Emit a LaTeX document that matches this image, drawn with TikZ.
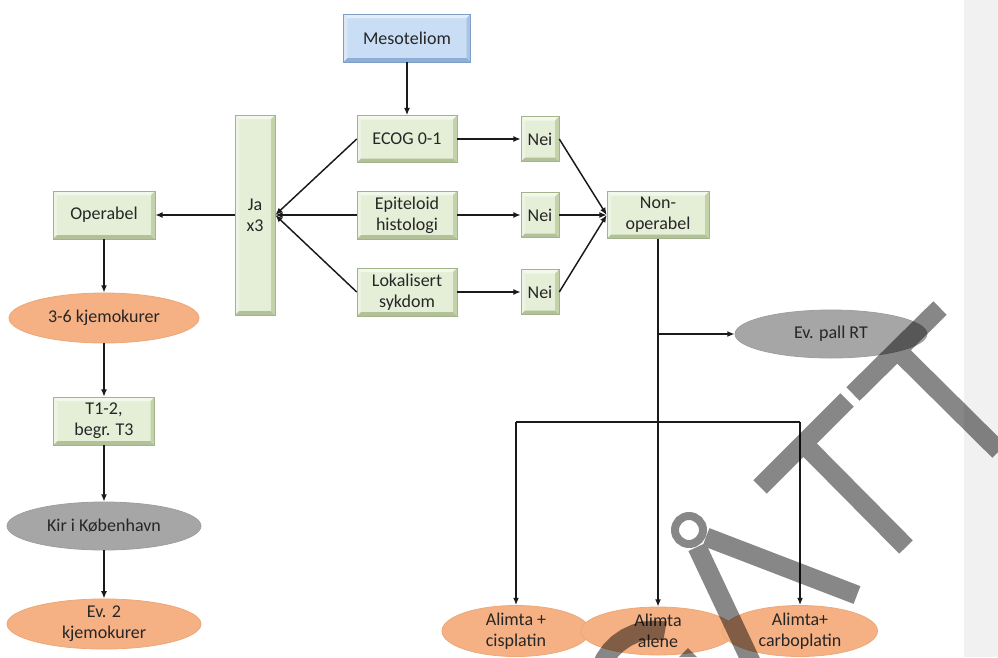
\documentclass[tikz,border=0pt]{standalone}
\usepackage{fontspec}
\setmainfont{Carlito}
\usetikzlibrary{arrows.meta,shapes.geometric}
\definecolor{gfill}{HTML}{E5EFD8}
\definecolor{gtop}{HTML}{F3F8EC}
\definecolor{gleft}{HTML}{EDF4E3}
\definecolor{gbot}{HTML}{B2C198}
\definecolor{gright}{HTML}{C4D2AA}
\definecolor{gedge}{HTML}{A3B38A}
\definecolor{bfill}{HTML}{C9DEF4}
\definecolor{btop}{HTML}{E3EEFA}
\definecolor{bleft}{HTML}{D9E7F7}
\definecolor{bbot}{HTML}{8DAED6}
\definecolor{bright}{HTML}{A8C3E3}
\definecolor{bedge}{HTML}{7E9EC4}
\definecolor{ofill}{HTML}{F5B183}
\definecolor{oedge}{HTML}{EDA878}
\definecolor{grfill}{HTML}{A6A6A6}
\definecolor{gredge}{HTML}{9E9E9E}
\definecolor{txtc}{HTML}{262626}
\definecolor{linec}{HTML}{1A1A1A}
\definecolor{panel}{HTML}{F1F1F1}
\newcommand{\bv}{3pt}
\tikzset{
  bevel/.style n args={4}{path picture={
    \fill[#1] (path picture bounding box.north west) -- (path picture bounding box.north east)
      -- ([shift={(-\bv,-\bv)}]path picture bounding box.north east) -- ([shift={(\bv,-\bv)}]path picture bounding box.north west) -- cycle;
    \fill[#2] (path picture bounding box.north west) -- (path picture bounding box.south west)
      -- ([shift={(\bv,\bv)}]path picture bounding box.south west) -- ([shift={(\bv,-\bv)}]path picture bounding box.north west) -- cycle;
    \fill[#3] (path picture bounding box.south west) -- (path picture bounding box.south east)
      -- ([shift={(-\bv,\bv)}]path picture bounding box.south east) -- ([shift={(\bv,\bv)}]path picture bounding box.south west) -- cycle;
    \fill[#4] (path picture bounding box.north east) -- (path picture bounding box.south east)
      -- ([shift={(-\bv,\bv)}]path picture bounding box.south east) -- ([shift={(-\bv,-\bv)}]path picture bounding box.north east) -- cycle;
  }},
  txt/.style={font=\fontsize{13.5}{15.5}\selectfont, text=txtc, align=center, inner sep=0pt},
  gbox/.style={txt, rectangle, fill=gfill, draw=gedge, line width=0.4pt, bevel={gtop}{gleft}{gbot}{gright}},
  bbox/.style={txt, rectangle, fill=bfill, draw=bedge, line width=0.4pt, bevel={btop}{bleft}{bbot}{bright}},
  oell/.style={txt, ellipse, fill=ofill, draw=oedge, line width=0.6pt},
  gell/.style={txt, ellipse, fill=grfill, draw=gredge, line width=0.6pt},
  conn/.style={draw=linec, line width=1.1pt},
  arr/.style={conn, -{Latex[length=5.5pt,width=4.5pt]}},
  mark stroke/.style={draw=black, draw opacity=0.47, line width=14.25pt},
  mark fill/.style={fill=black, fill opacity=0.47},
}
\begin{document}
\begin{tikzpicture}[x=0.75pt,y=-0.75pt]
\useasboundingbox (0,0) rectangle (998,657);
\fill[panel] (964,0) rectangle (998,657);

% boxes
\node[bbox, minimum width=95.25pt, minimum height=36pt] (meso) at (407,38) {Mesoteliom};
\node[gbox, minimum width=75pt, minimum height=35.25pt] (ecog) at (407,139) {ECOG 0-1};
\node[gbox, minimum width=75pt, minimum height=36pt] (epi) at (407,215) {Epiteloid\\histologi};
\node[gbox, minimum width=75pt, minimum height=36pt] (lok) at (407,292) {Lokalisert\\sykdom};
\node[gbox, minimum width=28.5pt, minimum height=33.75pt] (nei1) at (540,139) {Nei};
\node[gbox, minimum width=28.5pt, minimum height=33.75pt] (nei2) at (540,215) {Nei};
\node[gbox, minimum width=28.5pt, minimum height=33.75pt] (nei3) at (540,292) {Nei};
\node[gbox, minimum width=76.5pt, minimum height=35.25pt] (nonop) at (658,215) {Non-\\operabel};
\node[gbox, minimum width=30pt, minimum height=150pt] (ja) at (255,215) {Ja\\x3};
\node[gbox, minimum width=76.5pt, minimum height=36pt] (oper) at (104,215) {Operabel};
\node[oell, minimum width=142.5pt, minimum height=37.5pt] (kjemo) at (104,318) {3-6 kjemokurer};
\node[gbox, minimum width=75.75pt, minimum height=36pt] (tstage) at (104,421) {T1-2,\\begr. T3};
\node[gell, minimum width=145.5pt, minimum height=36pt] (kir) at (104,526) {Kir i København};
\node[oell, minimum width=145.5pt, minimum height=36pt] (ev2) at (104,624) {Ev. 2\\kjemokurer};
\node[gell, minimum width=144pt, minimum height=36pt] (pall) at (831,334) {Ev. pall RT};
\node[oell, minimum width=111pt, minimum height=36pt] (a1) at (516,631) {Alimta +\\cisplatin};
\node[oell, minimum width=115.5pt, minimum height=36pt] (a2) at (658,631) {Alimta\\alene};
\node[oell, minimum width=116.25pt, minimum height=36pt] (a3) at (800,631) {Alimta+\\carboplatin};

% connectors
\draw[arr] (meso.south) -- (meso.south |- ecog.north);
\draw[arr] (ecog.east) -- (nei1.west);
\draw[arr] (epi.east) -- (nei2.west);
\draw[arr] (lok.east) -- (nei3.west);
\draw[arr] (nei1.east) -- (nonop.west);
\draw[arr] (nei2.east) -- (nonop.west);
\draw[arr] (nei3.east) -- (nonop.west);
\draw[arr] (ecog.west) -- (ja.east);
\draw[arr] (epi.west) -- (ja.east);
\draw[arr] (lok.west) -- (ja.east);
\draw[arr] (ja.west) -- (oper.east);
\draw[arr] (oper.south) -- (kjemo.north);
\draw[arr] (kjemo.south) -- (tstage.north);
\draw[arr] (tstage.south) -- (kir.north);
\draw[arr] (kir.south) -- (ev2.north);
\coordinate (br1) at (658,334);
\coordinate (br2) at (658,422);
\coordinate (hl) at (516,422);
\coordinate (hr) at (800,422);
\draw[conn] (nonop.south) -- (br2);
\draw[arr] (br1) -- (pall.west);
\draw[conn] (hl) -- (hr);
\draw[arr] (hl) -- (a1.north);
\draw[arr] (br2) -- (a2.north);
\draw[arr] (hr) -- (a3.north);

% overlaid grey strokes
\begin{scope}
\clip (0,0) rectangle (998,657);
\path[mark stroke]
  (760,487) -- (847,400)
  (853,394) -- (940,308)
  (893,346) -- (999,451)
  (800,440) -- (906,547)
  (706,537) -- (857,595)
  (697,547) -- (755,670);
\draw[draw=black, draw opacity=0.47, line width=6pt] (689,530) circle[radius=14];
\fill[mark fill] (591.6,664.9) -- (596.5,654.3) -- (603.3,644.6) -- (611.6,636.3) -- (621.3,629.5)
  -- (631.9,624.6) -- (643.3,621.5) -- (655,620.5) -- (666.7,621.5)
  -- (663.4,640.2) -- (655,639.5) -- (646.6,640.2) -- (638.4,642.4) -- (630.8,646.0)
  -- (623.8,650.9) -- (617.9,656.8) -- (613.0,663.8) -- (609.4,671.4) -- cycle;
\fill[mark fill] (679,657) -- (688,648) -- (697,657) -- cycle;
\end{scope}
\end{tikzpicture}
\end{document}
